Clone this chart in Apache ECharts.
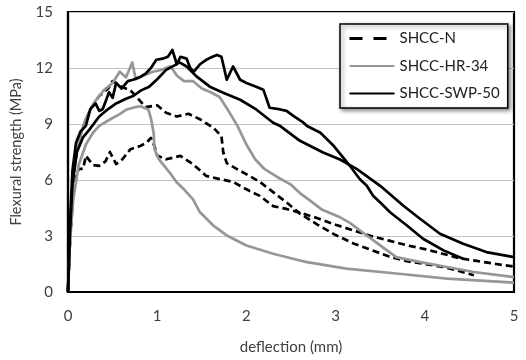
<!DOCTYPE html>
<html>
<head>
<meta charset="utf-8">
<script src="https://cdn.jsdelivr.net/npm/echarts@6/dist/echarts.min.js"></script>
<style>
  html, body { margin: 0; padding: 0; background: #fff; }
  #chart { width: 526px; height: 360px; }
</style>
</head>
<body>
<div id="chart"></div>
<script>
// Load–deflection curves, two specimens per mix: [deflection (mm), flexural strength (MPa)]
const shccN_1 = [[0,0],[0.02,2.5],[0.05,5],[0.08,7],[0.15,8.6],[0.25,9.8],[0.35,10.5],[0.45,10.9],[0.5,11.3],[0.6,11.0],[0.7,10.8],[0.76,10.5],[0.87,9.9],[1.0,10.0],[1.1,9.6],[1.22,9.4],[1.35,9.55],[1.48,9.25],[1.63,8.8],[1.72,8.35],[1.74,7.5],[1.78,6.9],[1.89,6.6],[2.04,6.2],[2.15,5.9],[2.3,5.35],[2.45,4.8],[2.6,4.2],[2.8,3.6],[3.0,3.05],[3.2,2.6],[3.4,2.25],[3.6,1.9],[3.8,1.65],[4.0,1.5],[4.2,1.35],[4.4,1.1],[4.55,0.9]];
const shccN_2 = [[0,0],[0.02,2.5],[0.05,4.8],[0.08,6.0],[0.12,6.6],[0.17,6.6],[0.2,7.3],[0.28,6.8],[0.35,6.76],[0.42,7.0],[0.47,7.5],[0.54,6.85],[0.61,7.11],[0.7,7.65],[0.81,7.82],[0.88,8.0],[0.93,8.25],[0.97,7.8],[1.0,7.3],[1.1,7.11],[1.18,7.2],[1.26,7.29],[1.4,6.85],[1.55,6.22],[1.7,6.05],[1.85,5.9],[2.0,5.5],[2.15,5.15],[2.3,4.6],[2.45,4.45],[2.6,4.25],[2.8,3.95],[3.0,3.6],[3.2,3.3],[3.4,3.0],[3.6,2.75],[3.8,2.5],[4.0,2.3],[4.2,2.05],[4.4,1.8],[4.6,1.65],[4.8,1.5],[5.0,1.36]];

const shccHR_1 = [[0,0],[0.02,2.5],[0.05,5.5],[0.08,7.2],[0.13,8.2],[0.2,9.3],[0.3,10.2],[0.4,10.8],[0.5,11.2],[0.58,11.8],[0.65,11.5],[0.72,12.3],[0.76,11.4],[0.85,11.6],[0.95,11.8],[1.05,11.9],[1.15,12.1],[1.22,11.6],[1.3,11.3],[1.4,11.3],[1.5,10.9],[1.6,10.7],[1.7,10.45],[1.8,9.7],[1.9,8.9],[2.0,7.9],[2.1,7.1],[2.2,6.6],[2.35,6.15],[2.5,5.75],[2.6,5.3],[2.7,4.95],[2.85,4.4],[3.05,4.0],[3.16,3.7],[3.3,3.2],[3.5,2.5],[3.68,1.87],[3.95,1.6],[4.25,1.34],[4.55,1.07],[5.0,0.8]];
const shccHR_2 = [[0,0],[0.02,2.5],[0.06,5.0],[0.12,6.8],[0.2,7.9],[0.28,8.53],[0.35,8.9],[0.47,9.24],[0.57,9.5],[0.66,9.78],[0.75,9.9],[0.81,9.95],[0.9,9.78],[0.93,9.3],[0.96,8.53],[0.97,7.65],[1.02,7.1],[1.14,6.4],[1.22,5.87],[1.3,5.5],[1.4,4.98],[1.48,4.27],[1.63,3.56],[1.78,3.03],[2.0,2.49],[2.3,2.05],[2.6,1.69],[2.68,1.6],[3.12,1.25],[3.68,0.99],[4.25,0.72],[5.0,0.5]];

const shccSWP_1 = [[0,0],[0.02,3],[0.05,5.8],[0.1,7.5],[0.17,8.3],[0.24,8.7],[0.35,9.4],[0.45,9.8],[0.54,10.1],[0.65,10.35],[0.73,10.5],[0.82,10.8],[0.91,11.0],[1.0,11.4],[1.1,11.9],[1.18,12.1],[1.25,12.3],[1.33,12.08],[1.44,11.55],[1.59,11.0],[1.74,10.67],[1.93,10.3],[2.11,9.78],[2.3,9.07],[2.38,8.89],[2.6,8.1],[2.86,7.47],[3.05,7.1],[3.24,6.58],[3.5,5.69],[3.76,4.62],[3.95,3.91],[4.17,3.12],[4.43,2.58],[4.69,2.14],[5.0,1.87]];
const shccSWP_2 = [[0,0],[0.02,3.5],[0.05,6.5],[0.09,8.0],[0.14,8.6],[0.2,8.9],[0.25,9.8],[0.31,10.1],[0.35,9.7],[0.39,9.8],[0.46,10.7],[0.5,10.4],[0.54,11.2],[0.6,10.9],[0.67,11.3],[0.73,11.37],[0.8,11.5],[0.87,11.7],[0.93,12.0],[0.99,12.44],[1.06,12.5],[1.12,12.6],[1.17,12.97],[1.22,12.2],[1.26,12.6],[1.33,12.5],[1.37,12.0],[1.41,11.8],[1.48,12.2],[1.55,12.44],[1.62,12.6],[1.67,12.7],[1.72,12.6],[1.78,11.37],[1.85,12.08],[1.93,11.37],[2.0,11.2],[2.11,11.0],[2.19,10.84],[2.26,9.87],[2.38,9.78],[2.45,9.7],[2.53,9.42],[2.64,9.07],[2.68,8.89],[2.83,8.53],[2.98,7.82],[3.07,7.29],[3.16,6.76],[3.27,6.05],[3.35,5.69],[3.42,5.16],[3.5,4.8],[3.61,4.27],[3.8,3.56],[3.98,2.85],[4.21,2.23],[4.43,1.78]];

const seriesNames = ['SHCC-N', 'SHCC-HR-34', 'SHCC-SWP-50'];
const xTicks = { min: 0, max: 5, interval: 1 };
const yTicks = { min: 0, max: 15, interval: 3 };

const FONT = 'Lato';
const TEXT_COLOR = '#404040';

const styles = {
  'SHCC-N':      { color: '#000000', width: 2.7, type: [7, 4] },
  'SHCC-HR-34':  { color: '#969696', width: 2.7, type: 'solid' },
  'SHCC-SWP-50': { color: '#000000', width: 2.7, type: 'solid' }
};

function curve(name, data) {
  const s = styles[name];
  return {
    name: name,
    type: 'line',
    data: data,
    symbol: 'none',
    showSymbol: false,
    animation: false,
    lineStyle: { color: s.color, width: s.width, type: s.type, join: 'round', cap: 'butt' },
    itemStyle: { color: s.color }
  };
}

const chart = echarts.init(document.getElementById('chart'), null, { renderer: 'canvas' });
chart.setOption({
  animation: false,
  backgroundColor: '#ffffff',
  textStyle: { fontFamily: FONT },
  grid: {
    left: 68, right: 12, top: 12, bottom: 66,
    show: true, borderColor: '#000000', borderWidth: 2.2, backgroundColor: 'transparent'
  },
  legend: {
    data: [
      { name: seriesNames[0], lineStyle: { type: [13, 11], width: 3 } },
      { name: seriesNames[1] },
      { name: seriesNames[2] }
    ],
    orient: 'vertical',
    left: 340, top: 24,
    padding: [7, 8, 7, 8],
    itemWidth: 45, itemHeight: 14, itemGap: 12.5,
    itemStyle: { color: 'transparent', borderWidth: 0, opacity: 0 },
    backgroundColor: '#ffffff',
    borderColor: '#000000', borderWidth: 1.5,
    shadowColor: 'rgba(0,0,0,0.45)', shadowBlur: 4, shadowOffsetX: 2, shadowOffsetY: 2,
    textStyle: { fontFamily: FONT, fontSize: 15, color: '#222' }
  },
  xAxis: {
    type: 'value',
    min: xTicks.min, max: xTicks.max, interval: xTicks.interval,
    name: 'deflection (mm)',
    nameLocation: 'middle', nameGap: 48,
    nameTextStyle: { fontFamily: FONT, fontSize: 15, color: TEXT_COLOR },
    axisLine: { show: true, lineStyle: { color: '#000', width: 2.2 } },
    axisTick: { show: false },
    axisLabel: { margin: 17, fontFamily: FONT, fontSize: 15, color: TEXT_COLOR },
    splitLine: { show: false }
  },
  yAxis: {
    type: 'value',
    min: yTicks.min, max: yTicks.max, interval: yTicks.interval,
    name: 'Flexural strength (MPa)',
    nameLocation: 'middle', nameGap: 44,
    nameTextStyle: { fontFamily: FONT, fontSize: 14.5, color: TEXT_COLOR },
    axisLine: { show: true, lineStyle: { color: '#000', width: 2.2 } },
    axisTick: { show: false },
    axisLabel: { margin: 15, fontFamily: FONT, fontSize: 15, color: TEXT_COLOR },
    splitLine: { show: true, lineStyle: { color: '#c4c4c4', width: 1.2 } }
  },
  series: [
    curve('SHCC-N', shccN_1),
    curve('SHCC-N', shccN_2),
    curve('SHCC-HR-34', shccHR_1),
    curve('SHCC-HR-34', shccHR_2),
    curve('SHCC-SWP-50', shccSWP_1),
    curve('SHCC-SWP-50', shccSWP_2)
  ]
});
</script>
</body>
</html>
